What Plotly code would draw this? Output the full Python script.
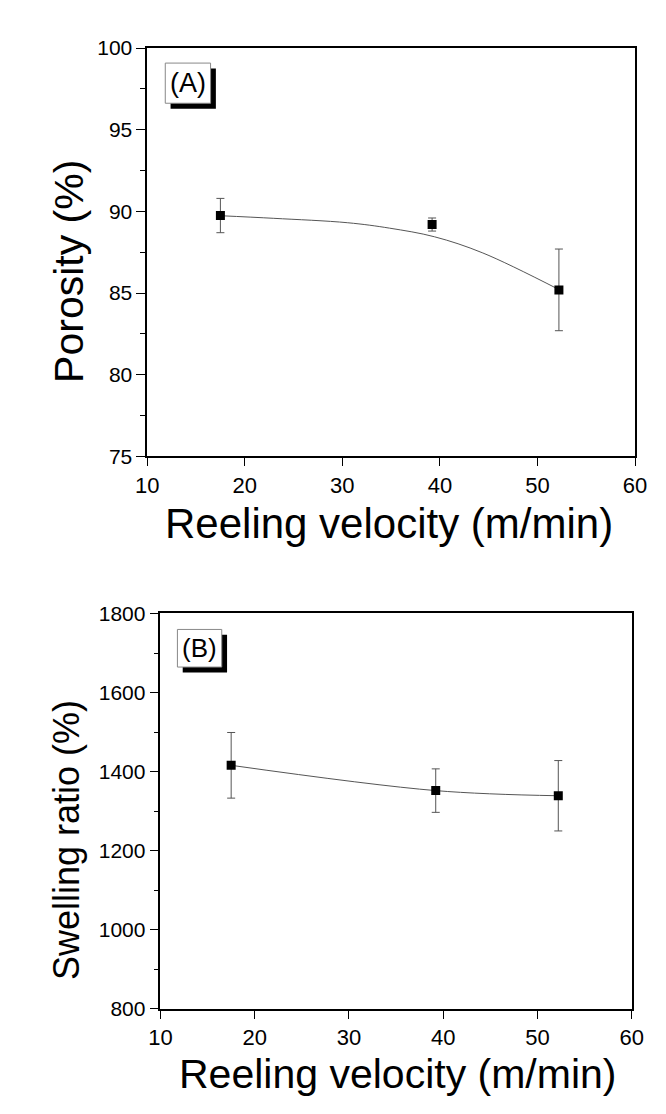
import plotly.graph_objects as go

W, H = 666, 1114

# ---- Data ----
vel = [17.5, 39.2, 52.2]
porosity = [89.75, 89.2, 85.2]
porosity_err = [1.05, 0.4, 2.5]
fit_x = [17.5, 22.97, 30.55, 34.83, 39.45, 44.4, 52.2]
fit_y = [89.74, 89.58, 89.31, 88.98, 88.45, 87.46, 85.22]

swelling = [1416, 1352, 1339]
swelling_err = [83, 55, 89]

x_ticks = [10, 20, 30, 40, 50, 60]
a_y_ticks = [75, 80, 85, 90, 95, 100]
b_y_ticks = [800, 1000, 1200, 1400, 1600, 1800]

FONT = "Arial, Liberation Sans, sans-serif"


def px(x):
    return x / W


def py(y):
    return 1 - y / H


fig = go.Figure()

# Panel A
fig.add_trace(go.Scatter(x=fit_x, y=fit_y, mode="lines", line=dict(color="#555555", width=1, shape="spline"),
                         xaxis="x", yaxis="y", showlegend=False, hoverinfo="skip"))
fig.add_trace(go.Scatter(x=vel, y=porosity, mode="markers",
                         marker=dict(symbol="square", size=9, color="black"),
                         error_y=dict(type="data", array=porosity_err, color="#555555", thickness=1, width=4),
                         xaxis="x", yaxis="y", showlegend=False))

# Panel B
fig.add_trace(go.Scatter(x=vel, y=swelling, mode="lines+markers",
                         line=dict(color="#555555", width=1, shape="spline"),
                         marker=dict(symbol="square", size=9, color="black"),
                         error_y=dict(type="data", array=swelling_err, color="#555555", thickness=1, width=4),
                         xaxis="x2", yaxis="y2", showlegend=False))

axis_common = dict(showline=True, linecolor="black", linewidth=1.5, mirror=True, ticks="outside",
                   tickcolor="black", tickwidth=1, showgrid=False, zeroline=False)
yfont = dict(family=FONT, size=21, color="black")
xfont = dict(family=FONT, size=22, color="black")

fig.update_layout(
    width=W, height=H,
    margin=dict(l=0, r=0, t=0, b=0),
    paper_bgcolor="white", plot_bgcolor="white",
    font=dict(family=FONT, color="black"),
    xaxis=dict(domain=[px(132), px(638)], range=[10, 60], tickvals=x_ticks, ticklen=8,
               anchor="y", tickfont=xfont, **axis_common),
    yaxis=dict(domain=[py(445.7), py(28.7)], range=[75, 100], tickvals=a_y_ticks, ticklen=9,
               minor=dict(dtick=2.5, tick0=75, ticklen=5, ticks="outside", tickcolor="black"),
               anchor="x", tickfont=yfont, **axis_common),
    xaxis2=dict(domain=[px(145.7), px(634.7)], range=[10, 60], tickvals=x_ticks, ticklen=8,
                anchor="y2", tickfont=xfont, **axis_common),
    yaxis2=dict(domain=[py(1009.7), py(606)], range=[800, 1800], tickvals=b_y_ticks, ticklen=9,
                minor=dict(dtick=100, tick0=800, ticklen=5, ticks="outside", tickcolor="black"),
                anchor="x2", tickfont=yfont, **axis_common),
)


def label_box(x0, y0, x1, y1, text, size):
    # shadow
    fig.add_shape(type="rect", xref="paper", yref="paper",
                  x0=px(x0 + 5.5), x1=px(x1 + 5.5), y0=py(y1 + 5.5), y1=py(y0 + 5.5),
                  fillcolor="black", line=dict(width=0), layer="above")
    fig.add_shape(type="rect", xref="paper", yref="paper",
                  x0=px(x0), x1=px(x1), y0=py(y1), y1=py(y0),
                  fillcolor="white", line=dict(color="#888888", width=1), layer="above")
    fig.add_annotation(x=px((x0 + x1) / 2), y=py((y0 + y1) / 2), xref="paper", yref="paper",
                       text=text, showarrow=False, xanchor="center", yanchor="middle",
                       font=dict(family=FONT, size=size, color="black"))


label_box(150.7, 44, 197.7, 85, "(A)", 27)
label_box(163.3, 622.3, 209.3, 660.7, "(B)", 26)

# Axis titles
fig.add_annotation(x=px(50), y=py(257), xref="paper", yref="paper", text="Porosity (%)",
                   textangle=-90, showarrow=False, xanchor="center", yanchor="middle",
                   font=dict(family=FONT, size=41, color="black"))
fig.add_annotation(x=px(383), y=py(514), xref="paper", yref="paper", text="Reeling velocity (m/min)",
                   showarrow=False, xanchor="center", yanchor="middle",
                   font=dict(family=FONT, size=42, color="black"))
fig.add_annotation(x=px(48), y=py(837), xref="paper", yref="paper", text="Swelling ratio (%)",
                   textangle=-90, showarrow=False, xanchor="center", yanchor="middle",
                   font=dict(family=FONT, size=36, color="black"))
fig.add_annotation(x=px(392), y=py(1076), xref="paper", yref="paper", text="Reeling velocity (m/min)",
                   showarrow=False, xanchor="center", yanchor="middle",
                   font=dict(family=FONT, size=41, color="black"))

fig.write_html("out.html")
